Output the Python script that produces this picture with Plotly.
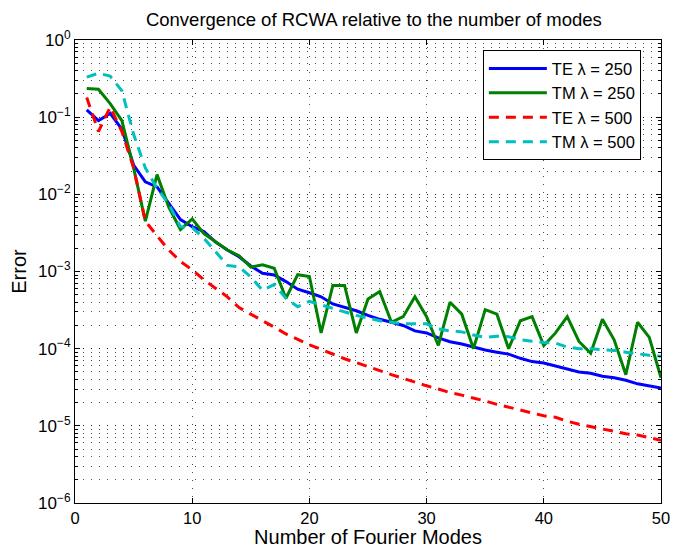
import plotly.graph_objects as go

modes = list(range(1, 51))

te_250 = [0.124, 0.09, 0.112, 0.07, 0.024, 0.0145, 0.0125, 0.0078, 0.0047, 0.0038,
          0.0033, 0.0024, 0.0019, 0.00155, 0.00118, 0.00095, 0.0009, 0.00074, 0.00059, 0.00053,
          0.00047, 0.00038, 0.00034, 0.00031, 0.00027, 0.00024, 0.00022, 0.0002, 0.00017, 0.00016,
          0.000138, 0.000123, 0.000115, 0.000105, 0.000096, 0.00009, 0.000085, 0.000075, 0.000068, 0.000065,
          0.00006, 0.000055, 0.00005, 0.000048, 0.000044, 0.000042, 0.000039, 0.000035, 0.000033, 0.000031]

tm_250 = [0.235, 0.23, 0.15, 0.09, 0.022, 0.0045, 0.018, 0.0068, 0.0035, 0.0048,
          0.0031, 0.0024, 0.0019, 0.0016, 0.00114, 0.00122, 0.0011, 0.00045, 0.00091, 0.00086,
          0.00016, 0.00066, 0.00066, 0.00016, 0.00044, 0.00055, 0.00022, 0.00026, 0.00047, 0.00026,
          0.00011, 0.0004, 0.00028, 0.0001, 0.00032, 0.00028, 0.0001, 0.00023, 0.00026, 0.00011,
          0.00016, 0.00026, 0.000124, 0.000087, 0.00024, 0.00013, 0.000046, 0.00022, 0.00014, 0.000042]

te_500 = [0.18, 0.065, 0.135, 0.065, 0.022, 0.0045, 0.0029, 0.0019, 0.00135, 0.00105,
          0.00078, 0.0006, 0.00047, 0.00034, 0.00028, 0.000235, 0.00019, 0.000155, 0.000132, 0.000112,
          0.000098, 0.000085, 0.000074, 0.000066, 0.000059, 0.000052, 0.000046, 0.000041, 0.000037, 0.000033,
          0.00003, 0.000027, 0.000025, 0.000023, 0.000021, 0.000019, 0.0000174, 0.0000158, 0.0000145, 0.0000135,
          0.0000129, 0.0000115, 0.0000105, 0.0000098, 0.0000091, 0.0000085, 0.0000079, 0.0000076, 0.000007, 0.0000065]

tm_500 = [0.33, 0.37, 0.34, 0.22, 0.06, 0.022, 0.012, 0.0075, 0.0038, 0.0037,
          0.0027, 0.0018, 0.0012, 0.00115, 0.00085, 0.00057, 0.00068, 0.00045, 0.00035, 0.00041,
          0.00037, 0.00033, 0.0003, 0.00027, 0.00025, 0.00023, 0.00022, 0.00021, 0.00021, 0.00021,
          0.00018, 0.00017, 0.000165, 0.00015, 0.00014, 0.000145, 0.000143, 0.00013, 0.000125, 0.00012,
          0.000118, 0.000105, 0.0001, 0.0001, 0.000097, 0.000095, 0.00009, 0.000085, 0.000082, 0.00008]

y_tick_vals = [1e-6, 1e-5, 1e-4, 1e-3, 1e-2, 1e-1, 1e0]
y_tick_text = ["10<sup>−6</sup>", "10<sup>−5</sup>", "10<sup>−4</sup>", "10<sup>−3</sup>",
               "10<sup>−2</sup>", "10<sup>−1</sup>", "10<sup>0</sup>"]
x_tick_vals = [0, 10, 20, 30, 40, 50]

series = [
    ("TE λ = 250", te_250, "#0000FF", "solid"),
    ("TM λ = 250", tm_250, "#008000", "solid"),
    ("TE λ = 500", te_500, "#FF0000", "10px,7px"),
    ("TM λ = 500", tm_500, "#00BFBF", "10px,7px"),
]

FONT = "Liberation Sans, Arial, Helvetica, sans-serif"

fig = go.Figure()
for name, vals, color, dash in series:
    fig.add_trace(go.Scatter(x=modes, y=vals, mode="lines", name=name,
                             line=dict(color=color, width=3, dash=dash)))

grid_col = "rgba(0,0,0,0.7)"
fig.update_layout(
    width=673, height=548,
    margin=dict(l=75, r=12, t=40, b=45, autoexpand=False),
    paper_bgcolor="white", plot_bgcolor="white",
    font=dict(family=FONT, size=17, color="black"),
    title=dict(text="Convergence of RCWA relative to the number of modes",
               x=0.51, xref="paper", xanchor="center", y=1 - 20 / 548, yref="container", yanchor="middle",
               font=dict(size=18.5)),
    legend=dict(x=0.696, y=0.978, xanchor="left", yanchor="top",
                bordercolor="black", borderwidth=1, bgcolor="white",
                font=dict(size=16.5), itemwidth=58, tracegroupgap=0),
    showlegend=True,
)
fig.update_xaxes(
    range=[0, 50], tickmode="array", tickvals=x_tick_vals,
    tickfont=dict(size=16.5),
    showline=True, linecolor="black", linewidth=1, mirror="allticks",
    ticks="inside", ticklen=5, tickcolor="black",
    showgrid=True, gridcolor=grid_col, griddash="1px,7px", gridwidth=1,
    zeroline=False, automargin=False,
    title=dict(text="Number of Fourier Modes", standoff=7),
)
fig.update_yaxes(
    type="log", range=[-6, 0], tickmode="array", tickvals=y_tick_vals, ticktext=y_tick_text,
    showline=True, linecolor="black", linewidth=1, mirror="allticks",
    ticks="inside", ticklen=5, tickcolor="black",
    showgrid=True, gridcolor=grid_col, griddash="1px,7px", gridwidth=1,
    minor=dict(dtick="D1", ticks="inside", ticklen=3, tickcolor="black",
               showgrid=True, gridcolor=grid_col, griddash="1px,7px", gridwidth=1),
    zeroline=False, automargin=False,
    title=dict(text="Error", standoff=6),
)

fig.write_html("out.html",
               config={"displayModeBar": False},
               post_script="document.body.style.margin='0';document.body.style.padding='0';")
